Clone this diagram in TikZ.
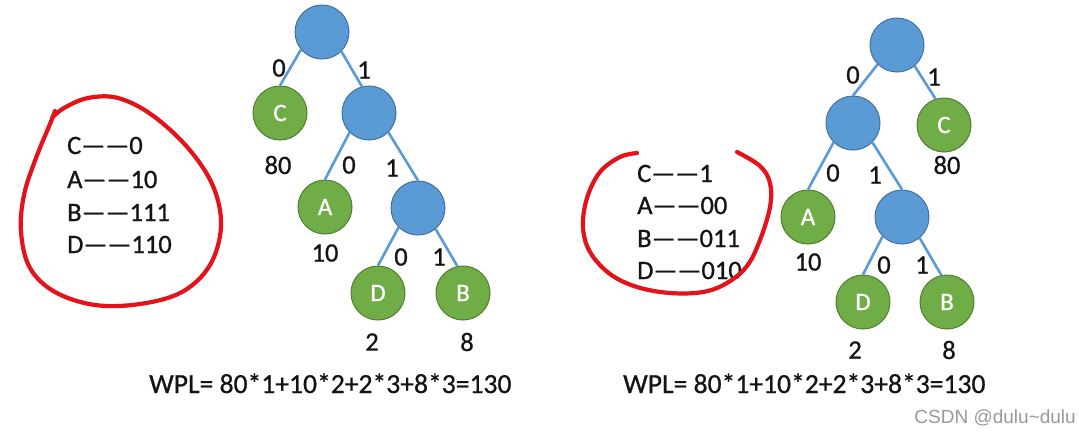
\documentclass[tikz,border=0pt]{standalone}
\usepackage{fontspec}
\setmainfont{Carlito}[FakeBold=0.8]
\newfontfamily\wmfont{Liberation Sans}
\definecolor{nblue}{HTML}{5B9BD5}
\definecolor{nblueD}{HTML}{41719C}
\definecolor{ngreen}{HTML}{70AD47}
\definecolor{ngreenD}{HTML}{507E32}
\definecolor{penred}{HTML}{E3121B}
\definecolor{txt}{HTML}{141414}
\begin{document}
\begin{tikzpicture}[x=1pt,y=-1pt,
  inode/.style={circle, minimum size=54pt, inner sep=0pt, fill=nblue, draw=nblueD, line width=1pt},
  leaf/.style={circle, minimum size=54pt, inner sep=0pt, fill=ngreen, draw=ngreenD, line width=1pt,
     text=white, font=\fontsize{25}{30}\selectfont},
  edge/.style={draw=nblue, line width=2.6pt},
  lbl/.style={font=\fontsize{26.5}{30}\selectfont, inner sep=0pt, text=txt},
  codeline/.style={font=\fontsize{26.5}{30}\selectfont, anchor=base west, inner sep=0pt, text=txt},
  wpl/.style={font=\fontsize{27.6}{32}\selectfont, anchor=base west, inner sep=0pt, text=txt},
  pen/.style={draw=penred, line width=4.2pt, line cap=round, line join=round}]
\useasboundingbox (0,0) rectangle (1079,432);
\fill[white] (0,0) rectangle (1079,432);

% ---------- left tree ----------
\node[inode] (Lr) at (322,32) {};
\node[leaf]  (Lc) at (280,113) {C};
\node[inode] (Li1) at (369,113) {};
\node[leaf]  (La) at (325,207) {A};
\node[inode] (Li2) at (418,208) {};
\node[leaf]  (Ld) at (378,293) {D};
\node[leaf]  (Lb) at (463,293) {B};
\draw[edge] (Lr.220) -- (Lc.north);
\draw[edge] (Lr.-45) -- (Li1.105);
\draw[edge] (Li1.225) -- (La.north);
\draw[edge] (Li1.-45) -- (Li2.north);
\draw[edge] (Li2.225) -- (Ld.north);
\draw[edge] (Li2.-50) -- (Lb.102);
\node[lbl] (Le1) at (279,68) {0};
\node[lbl] (Le2) at (364,70) {1};
\node[lbl] (Lw1) at (278,165) {80};
\node[lbl] (Le3) at (349,165) {0};
\node[lbl] (Le4) at (392,168) {1};
\node[lbl] (Lw2) at (325,253) {10};
\node[lbl] (Le5) at (401,257) {0};
\node[lbl] (Le6) at (439,257) {1};
\node[lbl] (Lw3) at (372,342) {2};
\node[lbl] (Lw4) at (467,342) {8};

% ---------- right tree ----------
\node[inode] (Rr) at (897,45) {};
\node[inode] (Ri1) at (853,123) {};
\node[leaf]  (Rc) at (944,125) {C};
\node[leaf]  (Ra) at (808,217) {A};
\node[inode] (Ri2) at (902,217) {};
\node[leaf]  (Rd) at (863,302) {D};
\node[leaf]  (Rb) at (947,302) {B};
\draw[edge] (Rr.225) -- (Ri1.north);
\draw[edge] (Rr.-50) -- (Rc.108);
\draw[edge] (Ri1.225) -- (Ra.north);
\draw[edge] (Ri1.-45) -- (Ri2.north);
\draw[edge] (Ri2.225) -- (Rd.north);
\draw[edge] (Ri2.-50) -- (Rb.102);
\node[lbl] (Re1) at (853,75) {0};
\node[lbl] (Re2) at (934,77) {1};
\node[lbl] (Rw1) at (947,165) {80};
\node[lbl] (Re3) at (833,173) {0};
\node[lbl] (Re4) at (875,175) {1};
\node[lbl] (Rw2) at (808,262) {10};
\node[lbl] (Re5) at (884,265) {0};
\node[lbl] (Re6) at (922,265) {1};
\node[lbl] (Rw3) at (855,350) {2};
\node[lbl] (Rw4) at (949,350) {8};

% ---------- code tables ----------
\node[codeline] (Lk1) at (67,154) {C——0};
\node[codeline] (Lk2) at (67,188) {A——10};
\node[codeline] (Lk3) at (67,221) {B——111};
\node[codeline] (Lk4) at (67,253) {D——110};

\node[codeline] (Rk1) at (637,182) {C——1};
\node[codeline] (Rk2) at (637,214) {A——00};
\node[codeline] (Rk3) at (637,247) {B——011};
\node[codeline] (Rk4) at (637,279) {D——010};

% ---------- red pen strokes ----------
\draw[pen] plot[smooth, tension=0.6] coordinates {
  (55,111) (50,124) (36,158) (24,195) (21,232) (30,268) (55,292) (95,305)
  (140,304) (182,292) (210,265) (221,226) (213,186) (188,148) (152,115)
  (118,98) (88,98) (64,108) (52,118)};
\draw[pen] plot[smooth, tension=0.6] coordinates {
  (637,153) (620,157) (600,172) (587,198) (583,227) (590,252) (610,274)
  (637,287) (670,293) (703,292) (727,283) (747,266) (760,240) (770,207)
  (770,183) (760,166) (737,152)};

% ---------- WPL ----------
\node[wpl] (Lwpl) at (149,393) {WPL= 80*1+10*2+2*3+8*3=130};
\node[wpl] (Rwpl) at (623,393) {WPL= 80*1+10*2+2*3+8*3=130};

% ---------- watermark ----------
\node[font=\wmfont\fontsize{19}{22}\selectfont, text=black!40, anchor=base east, inner sep=0pt]
  (wm) at (1076,423) {CSDN @dulu\textasciitilde dulu};
\end{tikzpicture}
\end{document}
